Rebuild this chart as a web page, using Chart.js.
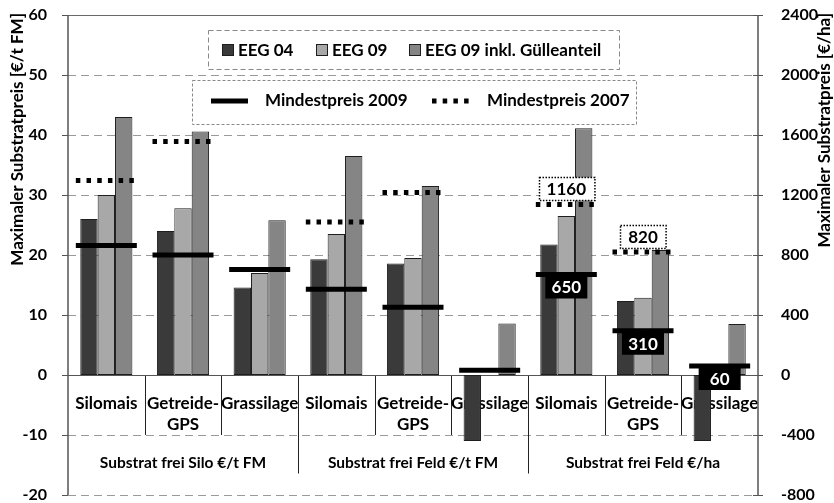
<!DOCTYPE html>
<html>
<head>
<meta charset="utf-8">
<script src="https://cdn.jsdelivr.net/npm/chart.js@4"></script>
<style>
  html, body { margin: 0; padding: 0; background: #fff; }
  canvas { display: block; }
</style>
</head>
<body>
<canvas id="chart" width="834" height="503"></canvas>
<script>
const categories = [
  ["Silomais"], ["Getreide-", "GPS"], ["Grassilage"],
  ["Silomais"], ["Getreide-", "GPS"], ["Grassilage"],
  ["Silomais"], ["Getreide-", "GPS"], ["Grassilage"]
];
const groupLabels = ["Substrat frei Silo €/t FM", "Substrat frei Feld €/t FM", "Substrat frei Feld €/ha"];
const seriesNames = ["EEG 04", "EEG 09", "EEG 09 inkl. Gülleanteil"];
const lineNames = ["Mindestpreis 2009", "Mindestpreis 2007"];

// €/t FM, left axis (first six categories)
const eeg04PerT  = [26, 24, 14.6, 19.3, 18.6, -11];
const eeg09PerT  = [30, 27.8, 17, 23.5, 19.5, 0];
const guellePerT = [43, 40.6, 25.8, 36.5, 31.5, 8.6];
const min2009PerT = [21.6, 20, 17.6, 14.3, 11.3, 0.8];
const min2007PerT = [32.4, 38.9, null, 25.5, 30.4, null];

// €/ha, right axis (last three categories)
const eeg04PerHa  = [870, 493, -440];
const eeg09PerHa  = [1060, 515, 0];
const guellePerHa = [1645, 833, 340];
const min2009PerHa = [670, 295, 60];
const min2007PerHa = [1137, 820, null];
const min2009Labels = ["650", "310", "60"];
const min2007Labels = ["1160", "820", null];

const leftTicks = { min: -20, max: 60, step: 10 };
const rightTicks = { min: -800, max: 2400, step: 400 };

const seriesColors = ["#3a3a3a", "#a8a8a8", "#858585"];
const FONT = 'Lato, "Open Sans", sans-serif';
const bold = size => `bold ${size}px ${FONT}`;

const nulls = n => new Array(n).fill(null);

function barSet(i, data, axis) {
  return {
    label: seriesNames[i],
    data: data,
    yAxisID: axis,
    backgroundColor: seriesColors[i],
    borderColor: '#1e1e1e',
    borderWidth: ctx => (ctx.raw === 0 ? 0 : 1),
    borderSkipped: false,
    barPercentage: 1,
    categoryPercentage: 0.68
  };
}

const datasets = [
  ...[eeg04PerT, eeg09PerT, guellePerT].map((d, i) => barSet(i, [...d, ...nulls(3)], 'y')),
  ...[eeg04PerHa, eeg09PerHa, guellePerHa].map((d, i) => barSet(i, [...nulls(6), ...d], 'y2'))
];

function solidSeg(ctx, x0, x1, py) {
  ctx.setLineDash([]);
  ctx.lineWidth = 5;
  ctx.strokeStyle = '#000';
  ctx.beginPath();
  ctx.moveTo(x0, py);
  ctx.lineTo(x1, py);
  ctx.stroke();
}

function dottedSeg(ctx, x0, x1, py) {
  ctx.setLineDash([4.5, 6.2]);
  ctx.lineWidth = 5;
  ctx.strokeStyle = '#000';
  ctx.beginPath();
  ctx.moveTo(x0, py);
  ctx.lineTo(x1, py);
  ctx.stroke();
  ctx.setLineDash([]);
}

const decor = {
  id: 'decor',
  beforeDatasetsDraw(chart) {
    const { ctx, chartArea: a, scales: { x, y } } = chart;
    ctx.save();
    ctx.lineWidth = 1;
    // horizontal grid
    y.ticks.forEach(t => {
      const py = Math.round(y.getPixelForValue(t.value)) + 0.5;
      if (t.value === 0) return;
      ctx.beginPath();
      if (t.value === y.max) {
        ctx.setLineDash([]);
        ctx.strokeStyle = '#6a6a6a';
      } else {
        ctx.setLineDash([8, 5]);
        ctx.strokeStyle = '#9a9a9a';
      }
      ctx.moveTo(a.left, py);
      ctx.lineTo(a.right, py);
      ctx.stroke();
    });
    ctx.setLineDash([]);

    // category labels and separators
    const zeroY = Math.round(y.getPixelForValue(0)) + 0.5;
    const minus10 = y.getPixelForValue(-10);
    ctx.strokeStyle = '#222';
    for (let i = 1; i < categories.length; i++) {
      const sx = Math.round(x.getPixelForValue(i - 0.5)) + 0.5;
      ctx.beginPath();
      ctx.moveTo(sx, zeroY);
      ctx.lineTo(sx, i % 3 === 0 ? zeroY + 98 : minus10);
      ctx.stroke();
    }
    ctx.fillStyle = '#000';
    ctx.textAlign = 'center';
    ctx.textBaseline = 'middle';
    ctx.font = bold(17);
    categories.forEach((lines, i) => {
      const cx = x.getPixelForValue(i);
      lines.forEach((s, k) => ctx.fillText(s, cx, zeroY + 28 + k * 21));
    });
    ctx.font = bold(15.5);
    groupLabels.forEach((g, j) => {
      ctx.fillText(g, x.getPixelForValue(j * 3 + 1), zeroY + 87);
    });

    // zero line
    ctx.strokeStyle = '#555';
    ctx.beginPath();
    ctx.moveTo(a.left, zeroY);
    ctx.lineTo(a.right, zeroY);
    ctx.stroke();
    ctx.restore();
  },
  afterDatasetsDraw(chart) {
    const { ctx, chartArea: a, scales: { x, y, y2 } } = chart;
    ctx.save();
    // axis lines and tick marks
    ctx.strokeStyle = '#555';
    ctx.lineWidth = 1.5;
    ctx.beginPath();
    ctx.moveTo(a.left, a.top); ctx.lineTo(a.left, a.bottom);
    ctx.moveTo(a.right, a.top); ctx.lineTo(a.right, a.bottom);
    ctx.stroke();
    ctx.lineWidth = 1;
    y.ticks.forEach(t => {
      const py = Math.round(y.getPixelForValue(t.value)) + 0.5;
      ctx.beginPath(); ctx.moveTo(a.left - 6, py); ctx.lineTo(a.left, py); ctx.stroke();
    });
    y2.ticks.forEach(t => {
      const py = Math.round(y2.getPixelForValue(t.value)) + 0.5;
      ctx.beginPath(); ctx.moveTo(a.right - 5, py); ctx.lineTo(a.right + 5, py); ctx.stroke();
    });

    // minimum price lines
    const half = 30.5;
    ctx.lineCap = 'butt';
    min2009PerT.forEach((v, i) => {
      if (v === null) return;
      const cx = x.getPixelForValue(i);
      solidSeg(ctx, cx - half, cx + half, y.getPixelForValue(v));
    });
    min2007PerT.forEach((v, i) => {
      if (v === null) return;
      const cx = x.getPixelForValue(i);
      dottedSeg(ctx, cx - half, cx + half, y.getPixelForValue(v));
    });
    min2009PerHa.forEach((v, i) => {
      const cx = x.getPixelForValue(i + 6);
      const py = y2.getPixelForValue(v);
      solidSeg(ctx, cx - half, cx + half, py);
      ctx.fillStyle = '#000';
      ctx.fillRect(cx - 21, py + 2, 42, 22);
      ctx.fillStyle = '#fff';
      ctx.font = bold(17);
      ctx.textAlign = 'center';
      ctx.textBaseline = 'middle';
      ctx.fillText(min2009Labels[i], cx, py + 13.5);
    });
    min2007PerHa.forEach((v, i) => {
      if (v === null) return;
      const cx = x.getPixelForValue(i + 6);
      const py = y2.getPixelForValue(v);
      dottedSeg(ctx, cx - half, cx + half, py);
      ctx.font = bold(17);
      const w = ctx.measureText(min2007Labels[i]).width + 16;
      const bx = Math.round(cx - w / 2) + 0.5, by = Math.round(py - 27) + 0.5;
      ctx.fillStyle = '#fff';
      ctx.fillRect(bx, by, w, 23);
      ctx.setLineDash([1.5, 1.5]);
      ctx.lineWidth = 1.5;
      ctx.strokeStyle = '#000';
      ctx.strokeRect(bx, by, w, 23);
      ctx.setLineDash([]);
      ctx.fillStyle = '#000';
      ctx.textAlign = 'center';
      ctx.textBaseline = 'middle';
      ctx.fillText(min2007Labels[i], cx, by + 12);
    });
    ctx.restore();
  },
  afterDraw(chart) {
    const { ctx } = chart;
    ctx.save();
    ctx.fillStyle = '#000';
    ctx.font = bold(17);
    ctx.textBaseline = 'middle';

    // axis titles, read bottom to top, ending near the top edge
    ctx.textAlign = 'right';
    ctx.save();
    ctx.translate(18, 13);
    ctx.rotate(-Math.PI / 2);
    ctx.fillText('Maximaler Substratpreis [€/t FM]', 0, 0);
    ctx.restore();
    ctx.save();
    ctx.translate(825, 13);
    ctx.rotate(-Math.PI / 2);
    ctx.fillText('Maximaler Substratpreis [€/ha]', 0, 0);
    ctx.restore();

    // legend 1: bars
    ctx.textAlign = 'left';
    ctx.fillStyle = '#fff';
    ctx.fillRect(208.5, 30.5, 411, 39);
    ctx.setLineDash([5, 3]);
    ctx.strokeStyle = '#888';
    ctx.lineWidth = 1;
    ctx.strokeRect(208.5, 30.5, 411, 39);
    ctx.setLineDash([]);
    const swX = [222, 316, 409];
    seriesNames.forEach((n, i) => {
      ctx.fillStyle = seriesColors[i];
      ctx.fillRect(swX[i] + 0.5, 44.5, 11, 11);
      ctx.strokeStyle = '#1e1e1e';
      ctx.strokeRect(swX[i] + 0.5, 44.5, 11, 11);
      ctx.fillStyle = '#000';
      ctx.fillText(n, swX[i] + 16, 51);
    });

    // legend 2: lines
    ctx.fillStyle = '#fff';
    ctx.fillRect(192.5, 80.5, 444, 44);
    ctx.setLineDash([3, 2]);
    ctx.strokeStyle = '#888';
    ctx.lineWidth = 1;
    ctx.strokeRect(192.5, 80.5, 444, 44);
    solidSeg(ctx, 211, 248, 101);
    dottedSeg(ctx, 432, 470, 101);
    ctx.fillStyle = '#000';
    ctx.fillText(lineNames[0], 265, 101);
    ctx.fillText(lineNames[1], 487, 101);
    ctx.restore();
  }
};

new Chart(document.getElementById('chart'), {
  type: 'bar',
  data: { labels: categories.map(c => c.join(' ')), datasets },
  options: {
    responsive: false,
    animation: false,
    devicePixelRatio: 1,
    skipNull: true,
    layout: { padding: { top: 15, bottom: 8, left: 0, right: 0 } },
    plugins: { legend: { display: false }, tooltip: { enabled: false } },
    scales: {
      x: { display: false },
      y: {
        position: 'left',
        min: leftTicks.min, max: leftTicks.max,
        grid: { display: false },
        border: { display: false },
        ticks: { stepSize: leftTicks.step, padding: 13, color: '#000', font: { family: FONT, weight: 'bold', size: 16 }, callback: v => String(v) },
        afterFit: s => { s.width = 68; s.paddingTop = 0; s.paddingBottom = 0; }
      },
      y2: {
        position: 'right',
        min: rightTicks.min, max: rightTicks.max,
        grid: { display: false },
        border: { display: false },
        ticks: { stepSize: rightTicks.step, padding: 15, color: '#000', font: { family: FONT, weight: 'bold', size: 16 }, callback: v => String(v) },
        afterFit: s => { s.width = 76; s.paddingTop = 0; s.paddingBottom = 0; }
      }
    }
  },
  plugins: [decor]
});
</script>
</body>
</html>
